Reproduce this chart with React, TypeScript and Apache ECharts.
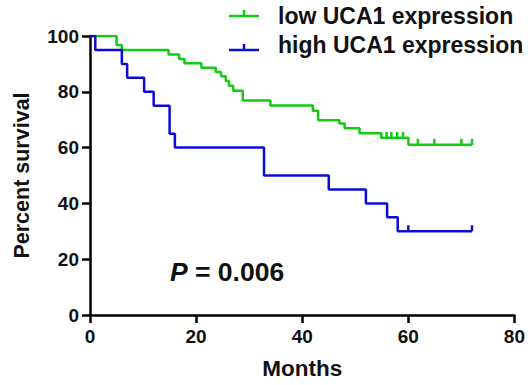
import React, { useEffect, useRef } from "react";
import * as echarts from "echarts";

const xTicks = [0, 20, 40, 60, 80];
const yTicks = [0, 20, 40, 60, 80, 100];

const lowSeries: [number, number][] = [
  [0, 100], [5, 96.8], [6, 95], [14.8, 93.4], [16.8, 91.8], [17.8, 90.2],
  [21, 88.6], [23.7, 87.1], [24.7, 85.6], [25.6, 83.9], [26.2, 82.2],
  [27, 80.4], [28.8, 76.9], [34, 75.1], [42, 73.2], [43, 69.8], [47, 68.6],
  [48, 66.9], [50.8, 65.1], [54.9, 63.5], [60, 61], [72, 61],
];
const highSeries: [number, number][] = [
  [0, 100], [1, 95], [6, 90], [7, 85], [10.2, 80], [12, 75], [15, 65],
  [16, 60], [32.8, 50], [45, 45], [52, 40], [56, 35], [58, 30], [72, 30],
];
const lowCensored: [number, number][] = [
  [55.9, 63.5], [56.8, 63.5], [57.9, 63.5], [59, 63.5],
  [61.8, 61], [64.9, 61], [70, 61], [72, 61],
];
const highCensored: [number, number][] = [[60, 30], [72, 30]];

const seriesNames = ["low UCA1 expression", "high UCA1 expression"];
const pLabel = "0.006";

const GREEN = "#12cc12";
const BLUE = "#0c0cd9";
const FONT = "'Liberation Sans', Arial, Helvetica, sans-serif";

function censorSeries(data: [number, number][], color: string) {
  return {
    type: "custom",
    data,
    z: 3,
    renderItem: (_params: any, api: any) => {
      const p = api.coord([api.value(0), api.value(1)]);
      return {
        type: "line",
        shape: { x1: p[0], y1: p[1], x2: p[0], y2: p[1] - 6 },
        style: { stroke: color, lineWidth: 2.5 },
      };
    },
  };
}

function legendItem(y: number, textY: number, color: string, label: string) {
  return [
    {
      type: "line",
      shape: { x1: 229, y1: y, x2: 259, y2: y },
      style: { stroke: color, lineWidth: 2.5 },
    },
    {
      type: "line",
      shape: { x1: 244, y1: y, x2: 244, y2: y - 6 },
      style: { stroke: color, lineWidth: 2.5 },
    },
    {
      type: "text",
      x: 278,
      y: textY,
      style: {
        text: label,
        fontFamily: FONT,
        fontWeight: "bold",
        fontSize: 23,
        fill: "#111",
        align: "left",
        verticalAlign: "middle",
      },
    },
  ];
}

export default function App() {
  const ref = useRef<HTMLDivElement>(null);
  useEffect(() => {
    if (!ref.current) return;
    const chart = echarts.init(ref.current, null, { renderer: "svg" });
    const axisCommon = {
      axisLine: { show: true, lineStyle: { color: "#000", width: 2.5 } },
      axisTick: { show: true, length: 8, lineStyle: { color: "#000", width: 2.5 } },
      splitLine: { show: false },
    };
    chart.setOption({
      animation: false,
      backgroundColor: "#fff",
      grid: { left: 90, right: 13, top: 36, bottom: 65 },
      xAxis: {
        type: "value",
        min: xTicks[0],
        max: xTicks[xTicks.length - 1],
        interval: 20,
        name: "Months",
        nameLocation: "middle",
        nameGap: 42,
        nameTextStyle: { fontFamily: FONT, fontWeight: "bold", fontSize: 22.5, color: "#111" },
        ...axisCommon,
        axisLabel: {
          fontFamily: FONT, fontWeight: "bold", fontSize: 19, color: "#111", margin: 12,
        },
      },
      yAxis: {
        type: "value",
        min: yTicks[0],
        max: yTicks[yTicks.length - 1],
        interval: 20,
        name: "Percent survival",
        nameLocation: "middle",
        nameGap: 57,
        nameTextStyle: { fontFamily: FONT, fontWeight: "bold", fontSize: 21.5, color: "#111" },
        ...axisCommon,
        axisLabel: {
          fontFamily: FONT, fontWeight: "bold", fontSize: 19, color: "#111", margin: 11,
        },
      },
      series: [
        {
          name: seriesNames[0],
          type: "line",
          step: "end",
          data: lowSeries,
          showSymbol: false,
          lineStyle: { color: GREEN, width: 2.5 },
          z: 2,
        },
        {
          name: seriesNames[1],
          type: "line",
          step: "end",
          data: highSeries,
          showSymbol: false,
          lineStyle: { color: BLUE, width: 2.5 },
          z: 2,
        },
        censorSeries(lowCensored, GREEN),
        censorSeries(highCensored, BLUE),
      ],
      graphic: [
        ...legendItem(16, 16, GREEN, seriesNames[0]),
        ...legendItem(50, 45, BLUE, seriesNames[1]),
        {
          type: "text",
          x: 170,
          y: 272,
          style: {
            text: "{i|P} = " + pLabel,
            fontFamily: FONT,
            fontWeight: "bold",
            fontSize: 26.5,
            fill: "#111",
            align: "left",
            verticalAlign: "middle",
            rich: {
              i: { fontFamily: FONT, fontWeight: "bold", fontStyle: "italic", fontSize: 26.5, fill: "#111" },
            },
          },
        },
      ],
    });
    return () => chart.dispose();
  }, []);
  return (
    <div
      ref={ref}
      style={{ position: "fixed", left: 0, top: 0, width: 528, height: 385 }}
    />
  );
}
